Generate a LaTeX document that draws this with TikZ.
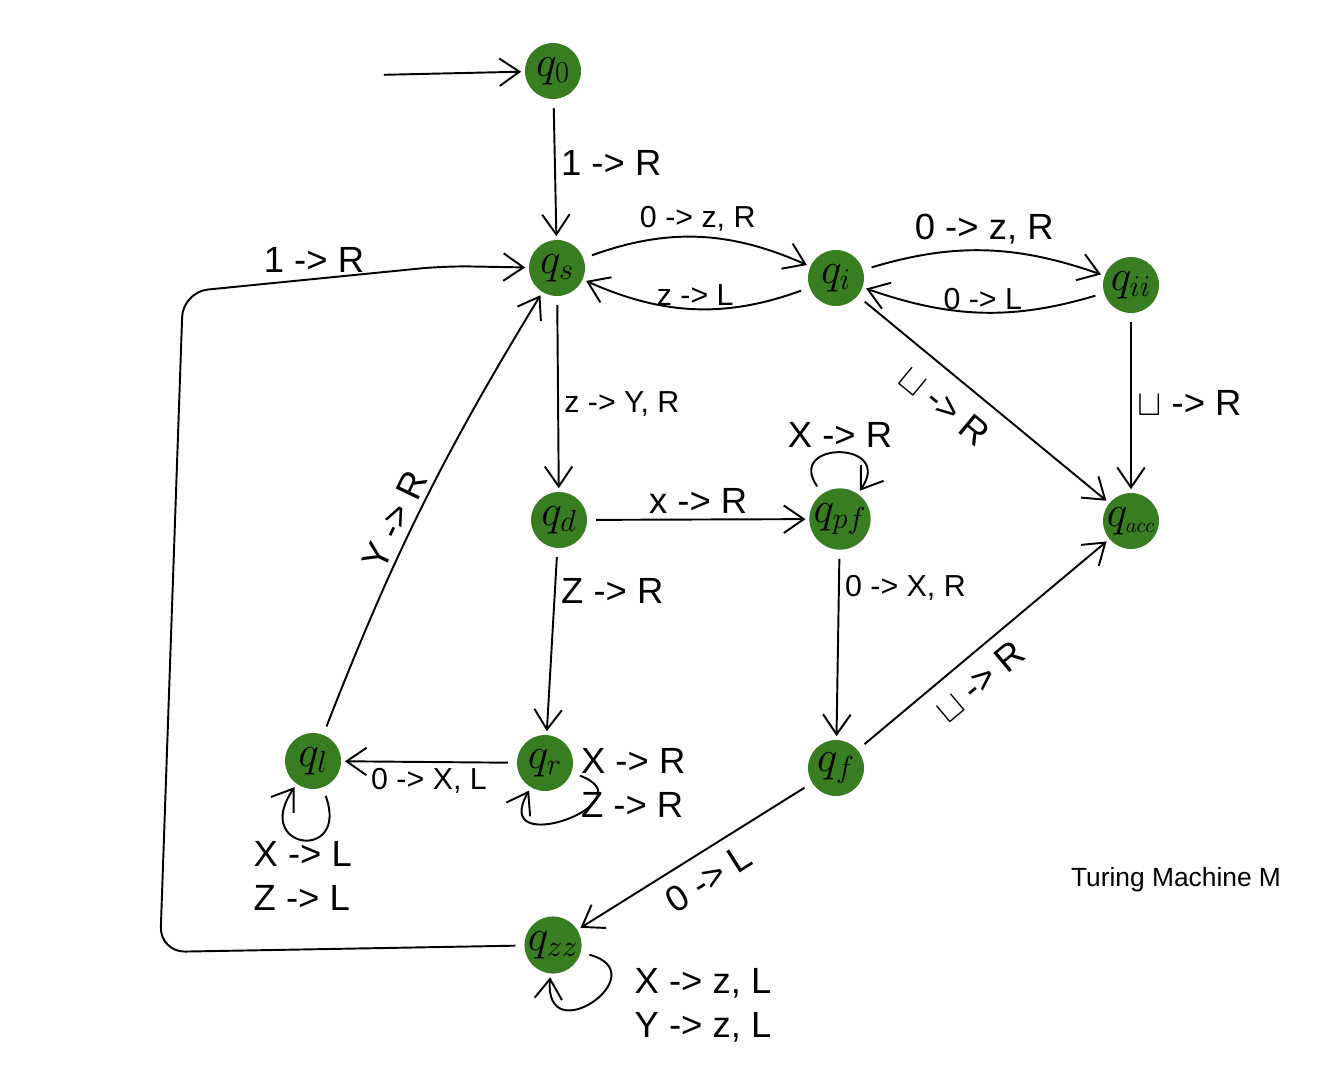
\documentclass[tikz,border=0pt]{standalone}
\usepackage{fontspec}
\setsansfont{Liberation Sans}
\usetikzlibrary{arrows.meta}
\definecolor{stategreen}{RGB}{56,125,34}

\begin{document}
\begin{tikzpicture}[
  x=0.02cm, y=-0.02cm,
  >={Straight Barb[length=4mm, width=5.5mm]},
  every node/.style={font=\sffamily},
  state/.style = {circle, fill=stategreen, inner sep=0pt, minimum size=1.12cm, font=\fontsize{23}{25}\selectfont},
  trans/.style = {->, line width=1.1pt, shorten >=2pt, shorten <=5pt},
  lbl/.style   = {font=\sffamily\huge, inner sep=3pt},
  lbls/.style  = {font=\sffamily\LARGE, inner sep=3pt},
]
  \useasboundingbox (0,0) rectangle (1344,1068);

  % states
  \node[state] (q0)   at (553,71)   {$q_0$};
  \node[state] (qs)   at (557,268)  {$q_s$};
  \node[state] (qi)   at (836,278)  {$q_i$};
  \node[state] (qii)  at (1131,285) {$q_{ii}$};
  \node[state] (qacc) at (1131,521) {$q_{\scriptscriptstyle acc}$};
  \node[state] (qd)   at (559,520)  {$q_d$};
  \node[state] (qpf)  at (840,519)  {$q_{pf}$};
  \node[state] (ql)   at (313,761)  {$q_l$};
  \node[state] (qr)   at (545,763)  {$q_r$};
  \node[state] (qf)   at (836,768)  {$q_f$};
  \node[state] (qzz)  at (553,945)  {$q_{zz}$};

  \coordinate (start) at (375,75);
  \coordinate (c1) at (160,952);
  \coordinate (c2) at (183,292);
  \coordinate (c3) at (445,266);

  % transitions
  \draw[trans] (start) -- (q0);
  \draw[trans] (q0) -- node[lbl, right, pos=.45] {1 -> R} (qs);
  \draw[trans] (qs) to[bend left=22] node[lbls, above] {0 -> z, R} (qi);
  \draw[trans] (qi) to[bend left=22] node[lbls, above, inner sep=1pt] {z -> L} (qs);
  \draw[trans] (qi) to[bend left=18] node[lbl, above] {0 -> z, R} (qii);
  \draw[trans] (qii) to[bend left=18] node[lbls, above, inner sep=1pt] {0 -> L} (qi);
  \draw[trans] (qi) -- node[lbl, sloped, below=6pt, pos=.42] {$\sqcup$ -> R} (qacc);
  \draw[trans] (qii) -- node[lbl, right] {$\sqcup$ -> R} (qacc);
  \draw[trans] (qs) -- node[lbls, right, pos=.55] {z -> Y, R} (qd);
  \draw[trans] (qd) -- node[lbl, above] {x -> R} (qpf);
  \draw[trans] (qpf) to[loop, out=125, in=55, min distance=13mm] node[lbl, above] {X -> R} (qpf);
  \draw[trans] (qpf) -- node[lbls, right, pos=.2] {0 -> X, R} (qf);
  \draw[trans] (qd) -- node[lbl, right, pos=.23] {Z -> R} (qr);
  \draw[trans] (qr) -- node[lbls, below] {0 -> X, L} (ql);
  \draw[trans] (qr) to[loop, out=-20, in=-120, min distance=17mm]
        node[lbl, pos=.04, anchor=west, align=left, inner sep=0pt, yshift=-4pt] {X -> R\\Z -> R} (qr);
  \draw[trans] (ql) to[loop, out=-70, in=-125, min distance=16mm]
        node[lbl, below, align=left, inner sep=1pt] {X -> L\\Z -> L} (ql);
  \draw[trans] (ql) to[bend left=5] node[lbl, sloped, above, pos=.45] {Y -> R} (qs);
  \draw[trans] (qf) -- node[lbl, sloped, below=4pt, pos=.42] {$\sqcup$ -> R} (qacc);
  \draw[trans] (qf) -- node[lbl, sloped, below=4pt] {0 -> L} (qzz);
  \draw[trans] (qzz) to[loop, out=-15, in=-95, min distance=16mm]
        node[lbl, pos=.22, anchor=north west, align=left, xshift=12pt, yshift=6pt] {X -> z, L\\Y -> z, L} (qzz);
  \draw[trans, rounded corners=5mm] (qzz) -- (c1) -- (c2) -- node[lbl, above, pos=.5] {1 -> R} (c3) -- (qs);

  \node[font=\sffamily\fontsize{15}{18}\selectfont] (title) at (1176,880) {Turing Machine M};
\end{tikzpicture}
\end{document}
